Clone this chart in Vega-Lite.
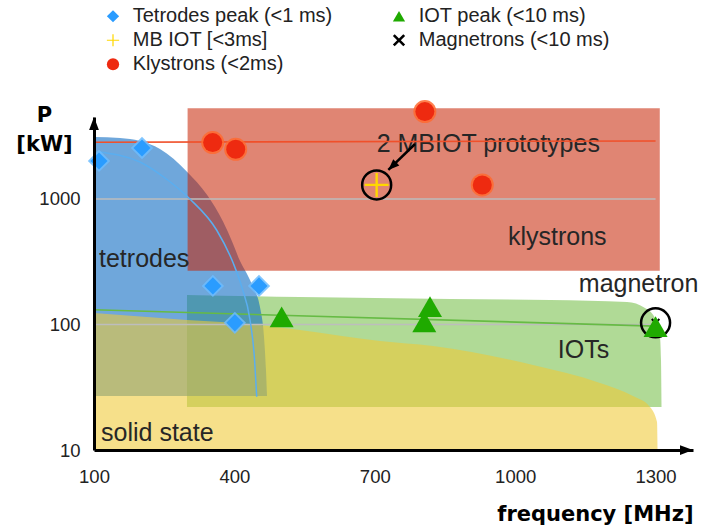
{
  "$schema": "https://vega.github.io/schema/vega-lite/v6.json",
  "width": 599,
  "height": 333,
  "autosize": {"type": "none"},
  "padding": {"left": 94, "top": 117, "right": 19, "bottom": 78},
  "background": "white",
  "config": {"view": {"stroke": null}, "font": "Liberation Sans"},
  "datasets": {
    "blueRegion": [
      {"f": 100, "p": 3116}, {"f": 155.6, "p": 3060}, {"f": 198.3, "p": 2896}, {"f": 241, "p": 2500},
      {"f": 298.7, "p": 1650}, {"f": 341.5, "p": 1080}, {"f": 375.7, "p": 660}, {"f": 397, "p": 440},
      {"f": 412, "p": 320}, {"f": 427, "p": 252}, {"f": 439.8, "p": 199}, {"f": 454.7, "p": 138},
      {"f": 463.3, "p": 79.5}, {"f": 467.5, "p": 43.4}, {"f": 469.7, "p": 26.9}
    ],
    "greenRegion": [
      {"f": 298.7, "p": 171.8}, {"f": 540, "p": 165.5}, {"f": 860.7, "p": 159.6}, {"f": 1074, "p": 156.7},
      {"f": 1239, "p": 151.1}, {"f": 1277.4, "p": 135.3}, {"f": 1298.8, "p": 112.6}, {"f": 1309.5, "p": 79.5},
      {"f": 1311.6, "p": 52.1}, {"f": 1312.7, "p": 22}
    ],
    "yellowRegion": [
      {"f": 100, "p": 123.5}, {"f": 298.7, "p": 108.6}, {"f": 454.7, "p": 99.1}, {"f": 540.2, "p": 90.4},
      {"f": 711.2, "p": 73.9}, {"f": 824.4, "p": 67.4}, {"f": 1038.1, "p": 47.6}, {"f": 1181.3, "p": 34.2},
      {"f": 1251.8, "p": 26.9}, {"f": 1288.1, "p": 22}, {"f": 1303.1, "p": 16.7}, {"f": 1304.2, "p": 10}
    ],
    "pts": [
      {"type": "Magnetrons (<10 ms)", "f": 1300, "p": 103},
      {"type": "IOT peak (<10 ms)", "f": 501, "p": 115},
      {"type": "IOT peak (<10 ms)", "f": 818, "p": 139},
      {"type": "IOT peak (<10 ms)", "f": 805.8, "p": 105},
      {"type": "IOT peak (<10 ms)", "f": 1300, "p": 96},
      {"type": "Tetrodes peak (<1 ms)", "f": 110.7, "p": 2010},
      {"type": "Tetrodes peak (<1 ms)", "f": 202.6, "p": 2548},
      {"type": "Tetrodes peak (<1 ms)", "f": 354, "p": 203},
      {"type": "Tetrodes peak (<1 ms)", "f": 452.6, "p": 203},
      {"type": "Tetrodes peak (<1 ms)", "f": 401, "p": 103},
      {"type": "Klystrons (<2ms)", "f": 353.6, "p": 2812},
      {"type": "Klystrons (<2ms)", "f": 402.8, "p": 2489},
      {"type": "Klystrons (<2ms)", "f": 807, "p": 4966},
      {"type": "Klystrons (<2ms)", "f": 929.7, "p": 1294},
      {"type": "MB IOT [<3ms]", "f": 704, "p": 1294}
    ],
    "labels": [
      {"label": "tetrodes", "f": 110.7, "p": 288},
      {"label": "klystrons", "f": 984.6, "p": 430},
      {"label": "magnetron", "f": 1136, "p": 182},
      {"label": "IOTs", "f": 1091, "p": 54},
      {"label": "solid state", "f": 115, "p": 11.9}
    ]
  },
  "encoding": {
    "x": {
      "field": "f", "type": "quantitative",
      "scale": {"type": "linear", "domain": [100, 1380], "nice": false, "zero": false},
      "axis": {
        "values": [100, 400, 700, 1000, 1300], "format": "d", "ticks": false, "grid": false,
        "domainColor": "black", "domainWidth": 3, "zindex": 1,
        "labelFont": "Liberation Sans", "labelFontSize": 18.5, "labelColor": "#222222",
        "labelPadding": 17.6, "labelFlush": false,
        "title": "frequency [MHz]", "titleFont": "DejaVu Sans", "titleFontWeight": "bold",
        "titleFontSize": 21, "titleColor": "black", "titleX": 599, "titleY": 70,
        "titleAlign": "right", "titleBaseline": "alphabetic"
      }
    },
    "y": {
      "field": "p", "type": "quantitative",
      "scale": {"type": "log", "domain": [10, 4498], "nice": false},
      "axis": {
        "values": [10, 100, 1000], "format": "d", "ticks": false, "grid": false,
        "domainColor": "black", "domainWidth": 3, "zindex": 1,
        "labelFont": "Liberation Sans", "labelFontSize": 18.5, "labelColor": "#222222",
        "labelPadding": 14, "labelFlush": false,
        "title": ["P", "[kW]"], "titleFont": "DejaVu Sans", "titleFontWeight": "bold",
        "titleFontSize": 21, "titleColor": "black", "titleAngle": 0, "titleX": -50, "titleY": 4,
        "titleAlign": "center", "titleBaseline": "alphabetic", "titleLineHeight": 29
      }
    }
  },
  "layer": [
    {"data": {"name": "greenRegion"}, "mark": {"type": "area", "color": "#61b52d", "opacity": 0.5, "interpolate": "monotone"}, "encoding": {"y2": {"datum": 22}}},
    {"data": {"name": "blueRegion"}, "mark": {"type": "area", "color": "#0f6cc3", "opacity": 0.6, "interpolate": "monotone"}, "encoding": {"y2": {"datum": 26.9}}},
    {"data": {"values": [{"f": 300, "f2": 1309, "p": 268, "p2": 5285}]}, "mark": {"type": "rect", "color": "#c72000", "opacity": 0.55}, "encoding": {"x2": {"field": "f2"}, "y2": {"field": "p2"}}},
    {"data": {"name": "yellowRegion"}, "mark": {"type": "area", "color": "#f0ca35", "opacity": 0.58, "interpolate": "monotone"}, "encoding": {"y2": {"datum": 10}}},
    {"data": {"values": [{"f": 100, "f2": 1300, "p": 1000}, {"f": 100, "f2": 1300, "p": 100}]}, "mark": {"type": "rule", "color": "#bdbdbd", "strokeWidth": 1.5}, "encoding": {"x2": {"field": "f2"}}},
    {"data": {"values": [{"label": "2 MBIOT prototypes", "f": 704, "p": 2383}]}, "mark": {"type": "text", "align": "left", "baseline": "alphabetic", "fontSize": 25, "font": "Liberation Sans", "color": "#262626"}, "encoding": {"text": {"field": "label"}}},
    {"data": {"values": [{"f": 100, "p": 2830}, {"f": 1300, "p": 2900}]}, "mark": {"type": "line", "color": "#f0502a", "strokeWidth": 1.6}, "encoding": {}},
    {"data": {"values": [{"f": 100, "p": 131}, {"f": 1300, "p": 97}]}, "mark": {"type": "line", "color": "#66bb44", "strokeWidth": 1.6}, "encoding": {}},
    {"data": {"values": [{"f": 105.8, "p": 2380}, {"f": 198.3, "p": 1970}, {"f": 251.7, "p": 1469}, {"f": 305, "p": 999}, {"f": 362, "p": 566}, {"f": 397.7, "p": 307}, {"f": 415.6, "p": 200}, {"f": 433.4, "p": 108.6}, {"f": 442, "p": 59.3}, {"f": 447.7, "p": 26.6}]}, "mark": {"type": "line", "color": "#5aaef0", "strokeWidth": 1.5, "interpolate": "monotone"}, "encoding": {}},
    {"data": {"values": [{"f": 786, "p": 2742, "f2": 729, "p2": 1702}]}, "mark": {"type": "rule", "color": "black", "strokeWidth": 2.5}, "encoding": {"x2": {"field": "f2"}, "y2": {"field": "p2"}}},
    {"data": {"values": [{"f": 729, "p": 1702}]}, "mark": {"type": "point", "shape": "M0,0L-0.8,2L0.8,2Z", "size": 121, "filled": true, "color": "black", "opacity": 1, "angle": 226}},
    {"data": {"name": "pts"}, "transform": [{"filter": "datum.type === 'Tetrodes peak (<1 ms)'"}], "mark": {"type": "point", "shape": "diamond", "filled": true, "size": 500, "color": "#6cbcff", "opacity": 0.85}},
    {"data": {"name": "pts"}, "transform": [{"filter": "datum.type === 'Klystrons (<2ms)'"}], "mark": {"type": "point", "shape": "circle", "filled": true, "size": 529, "color": "#ff6a30", "opacity": 0.85}},
    {"data": {"name": "pts"}, "transform": [{"filter": "datum.type === 'MB IOT [<3ms]' || datum.type === 'Magnetrons (<10 ms)'"}], "mark": {"type": "point", "shape": "circle", "filled": false, "size": 841, "color": "black", "strokeWidth": 2.5, "opacity": 1}},
    {"data": {"name": "pts"}, "transform": [{"filter": "datum.type === 'Magnetrons (<10 ms)'"}], "mark": {"type": "point", "filled": true, "size": 81, "opacity": 1},
      "encoding": {
        "shape": {"field": "type", "type": "nominal", "scale": {"domain": ["Tetrodes peak (<1 ms)", "MB IOT [<3ms]", "Klystrons (<2ms)", "IOT peak (<10 ms)", "Magnetrons (<10 ms)"], "range": ["diamond", "M-1,-0.1H1V0.1H-1Z M-0.1,-1H0.1V1H-0.1Z", "circle", "triangle-up", "M-1,-0.7L-0.7,-1L0,-0.3L0.7,-1L1,-0.7L0.3,0L1,0.7L0.7,1L0,0.3L-0.7,1L-1,0.7L-0.3,0Z"]},
          "legend": {"title": null, "orient": "none", "legendX": 9, "legendY": -110.75, "columns": 2, "columnPadding": 56, "rowPadding": 4, "symbolSize": 150, "symbolStrokeWidth": 0, "labelFont": "Liberation Sans", "labelFontSize": 20, "labelColor": "#222222", "labelLimit": 400, "labelOffset": 9.75, "padding": 0}},
        "color": {"field": "type", "type": "nominal", "scale": {"domain": ["Tetrodes peak (<1 ms)", "MB IOT [<3ms]", "Klystrons (<2ms)", "IOT peak (<10 ms)", "Magnetrons (<10 ms)"], "range": ["#2a9cff", "#ffd800", "#ee2a10", "#1faa00", "#000000"]},
          "legend": {"title": null, "orient": "none", "legendX": 9, "legendY": -110.75, "columns": 2, "columnPadding": 56, "rowPadding": 4, "symbolSize": 150, "symbolStrokeWidth": 0, "labelFont": "Liberation Sans", "labelFontSize": 20, "labelColor": "#222222", "labelLimit": 400, "labelOffset": 9.75, "padding": 0}}
      }},
    {"data": {"name": "pts"}, "transform": [{"filter": "datum.type === 'IOT peak (<10 ms)'"}], "mark": {"type": "point", "filled": true, "size": 576, "opacity": 1},
      "encoding": {"shape": {"field": "type", "type": "nominal"}, "color": {"field": "type", "type": "nominal"}}},
    {"data": {"name": "pts"}, "transform": [{"filter": "datum.type === 'Tetrodes peak (<1 ms)'"}], "mark": {"type": "point", "filled": true, "size": 290, "opacity": 1},
      "encoding": {"shape": {"field": "type", "type": "nominal"}, "color": {"field": "type", "type": "nominal"}}},
    {"data": {"name": "pts"}, "transform": [{"filter": "datum.type === 'Klystrons (<2ms)'"}], "mark": {"type": "point", "filled": true, "size": 361, "opacity": 1},
      "encoding": {"shape": {"field": "type", "type": "nominal"}, "color": {"field": "type", "type": "nominal"}}},
    {"data": {"name": "pts"}, "transform": [{"filter": "datum.type === 'MB IOT [<3ms]'"}], "mark": {"type": "point", "filled": true, "size": 576, "opacity": 1},
      "encoding": {"shape": {"field": "type", "type": "nominal"}, "color": {"field": "type", "type": "nominal"}}},
    {"data": {"name": "labels"}, "mark": {"type": "text", "align": "left", "baseline": "alphabetic", "fontSize": 25, "font": "Liberation Sans", "color": "#262626"}, "encoding": {"text": {"field": "label"}}},
    {"data": {"values": [{"f": 1380, "p": 10}]}, "mark": {"type": "point", "shape": "M0,0L-2,-0.75L-2,0.75Z", "size": 169, "filled": true, "color": "black", "opacity": 1}},
    {"data": {"values": [{"f": 100, "p": 4498}]}, "mark": {"type": "point", "shape": "M0,0L-0.75,2L0.75,2Z", "size": 169, "filled": true, "color": "black", "opacity": 1}}
  ]
}
